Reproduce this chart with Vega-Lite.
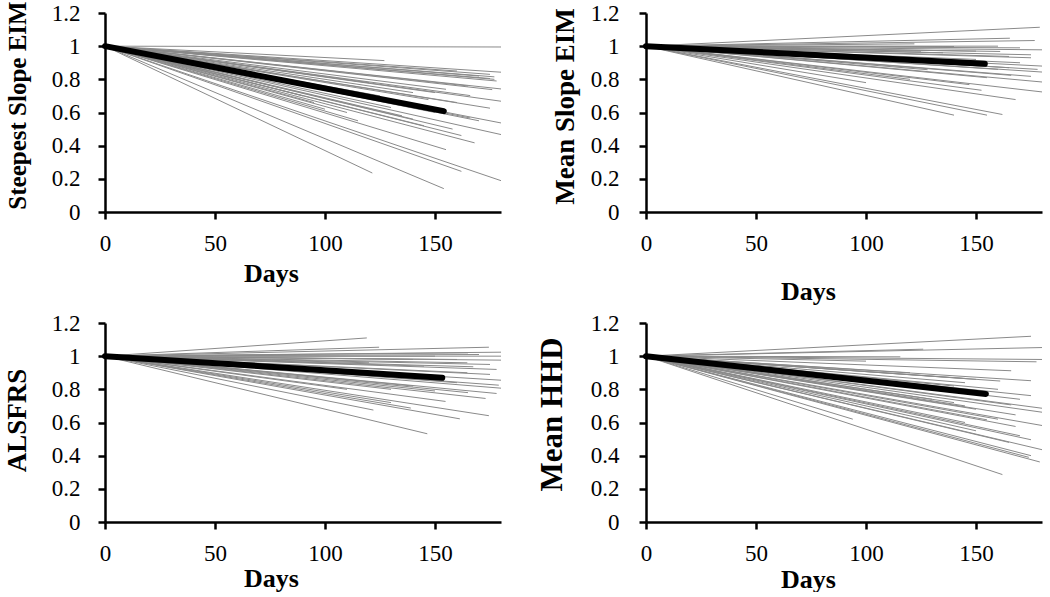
{
  "$schema": "https://vega.github.io/schema/vega-lite/v6.json",
  "autosize": {"type": "pad"},
  "padding": {"left": 2, "top": 0, "right": 0, "bottom": 0},
  "background": "white",
  "data": {"values": [
    {"p":"A","m":false,"x0":0,"y0":1,"x1":180,"y1":0.995},
    {"p":"A","m":false,"x0":0,"y0":1,"x1":127,"y1":0.913},
    {"p":"A","m":false,"x0":0,"y0":1,"x1":180,"y1":0.843},
    {"p":"A","m":false,"x0":0,"y0":1,"x1":177,"y1":0.815},
    {"p":"A","m":false,"x0":0,"y0":1,"x1":177,"y1":0.8},
    {"p":"A","m":false,"x0":0,"y0":1,"x1":175,"y1":0.805},
    {"p":"A","m":false,"x0":0,"y0":1,"x1":180,"y1":0.742},
    {"p":"A","m":false,"x0":0,"y0":1,"x1":176,"y1":0.738},
    {"p":"A","m":false,"x0":0,"y0":1,"x1":166,"y1":0.702},
    {"p":"A","m":false,"x0":0,"y0":1,"x1":180,"y1":0.668},
    {"p":"A","m":false,"x0":0,"y0":1,"x1":175,"y1":0.626},
    {"p":"A","m":false,"x0":0,"y0":1,"x1":147,"y1":0.678},
    {"p":"A","m":false,"x0":0,"y0":1,"x1":166,"y1":0.567},
    {"p":"A","m":false,"x0":0,"y0":1,"x1":180,"y1":0.537},
    {"p":"A","m":false,"x0":0,"y0":1,"x1":180,"y1":0.467},
    {"p":"A","m":false,"x0":0,"y0":1,"x1":162,"y1":0.461},
    {"p":"A","m":false,"x0":0,"y0":1,"x1":168,"y1":0.417},
    {"p":"A","m":false,"x0":0,"y0":1,"x1":155,"y1":0.376},
    {"p":"A","m":false,"x0":0,"y0":1,"x1":162,"y1":0.245},
    {"p":"A","m":false,"x0":0,"y0":1,"x1":180,"y1":0.189},
    {"p":"A","m":false,"x0":0,"y0":1,"x1":121.5,"y1":0.235},
    {"p":"A","m":false,"x0":0,"y0":1,"x1":154,"y1":0.141},
    {"p":"A","m":false,"x0":0,"y0":1,"x1":140,"y1":0.56},
    {"p":"A","m":false,"x0":0,"y0":1,"x1":95,"y1":0.66},
    {"p":"A","m":false,"x0":0,"y0":1,"x1":130,"y1":0.63},
    {"p":"A","m":false,"x0":0,"y0":1,"x1":150,"y1":0.72},
    {"p":"A","m":false,"x0":0,"y0":1,"x1":120,"y1":0.78},
    {"p":"A","m":false,"x0":0,"y0":1,"x1":160,"y1":0.85},
    {"p":"A","m":false,"x0":0,"y0":1,"x1":145,"y1":0.52},
    {"p":"A","m":false,"x0":0,"y0":1,"x1":110,"y1":0.6},
    {"p":"A","m":false,"x0":0,"y0":1,"x1":175,"y1":0.83},
    {"p":"A","m":false,"x0":0,"y0":1,"x1":170,"y1":0.82},
    {"p":"A","m":false,"x0":0,"y0":1,"x1":178,"y1":0.79},
    {"p":"A","m":false,"x0":0,"y0":1,"x1":165,"y1":0.76},
    {"p":"A","m":false,"x0":0,"y0":1,"x1":155,"y1":0.74},
    {"p":"A","m":false,"x0":0,"y0":1,"x1":140,"y1":0.72},
    {"p":"A","m":false,"x0":0,"y0":1,"x1":125,"y1":0.7},
    {"p":"A","m":false,"x0":0,"y0":1,"x1":160,"y1":0.66},
    {"p":"A","m":false,"x0":0,"y0":1,"x1":150,"y1":0.6},
    {"p":"A","m":false,"x0":0,"y0":1,"x1":135,"y1":0.58},
    {"p":"A","m":false,"x0":0,"y0":1,"x1":170,"y1":0.55},
    {"p":"A","m":false,"x0":0,"y0":1,"x1":158,"y1":0.5},
    {"p":"A","m":false,"x0":0,"y0":1,"x1":100,"y1":0.62},
    {"p":"A","m":false,"x0":0,"y0":1,"x1":90,"y1":0.7},
    {"p":"A","m":false,"x0":0,"y0":1,"x1":115,"y1":0.55},
    {"p":"A","m":true,"x0":0,"y0":1,"x1":154,"y1":0.608},

    {"p":"B","m":false,"x0":0,"y0":1,"x1":179,"y1":1.114},
    {"p":"B","m":false,"x0":0,"y0":1,"x1":176.7,"y1":1.034},
    {"p":"B","m":false,"x0":0,"y0":1,"x1":165.4,"y1":1.048},
    {"p":"B","m":false,"x0":0,"y0":1,"x1":180,"y1":0.978},
    {"p":"B","m":false,"x0":0,"y0":1,"x1":175,"y1":0.948},
    {"p":"B","m":false,"x0":0,"y0":1,"x1":161,"y1":0.968},
    {"p":"B","m":false,"x0":0,"y0":1,"x1":165,"y1":0.938},
    {"p":"B","m":false,"x0":0,"y0":1,"x1":122,"y1":1.014},
    {"p":"B","m":false,"x0":0,"y0":1,"x1":140,"y1":0.998},
    {"p":"B","m":false,"x0":0,"y0":1,"x1":180,"y1":0.88},
    {"p":"B","m":false,"x0":0,"y0":1,"x1":180,"y1":0.844},
    {"p":"B","m":false,"x0":0,"y0":1,"x1":166,"y1":0.824},
    {"p":"B","m":false,"x0":0,"y0":1,"x1":175,"y1":0.818},
    {"p":"B","m":false,"x0":0,"y0":1,"x1":180,"y1":0.784},
    {"p":"B","m":false,"x0":0,"y0":1,"x1":147,"y1":0.768},
    {"p":"B","m":false,"x0":0,"y0":1,"x1":180,"y1":0.724},
    {"p":"B","m":false,"x0":0,"y0":1,"x1":152.5,"y1":0.734},
    {"p":"B","m":false,"x0":0,"y0":1,"x1":168,"y1":0.678},
    {"p":"B","m":false,"x0":0,"y0":1,"x1":162,"y1":0.588},
    {"p":"B","m":false,"x0":0,"y0":1,"x1":155,"y1":0.584},
    {"p":"B","m":false,"x0":0,"y0":1,"x1":140,"y1":0.584},
    {"p":"B","m":false,"x0":0,"y0":1,"x1":128,"y1":0.858},
    {"p":"B","m":false,"x0":0,"y0":1,"x1":170,"y1":0.9},
    {"p":"B","m":false,"x0":0,"y0":1,"x1":150,"y1":0.92},
    {"p":"B","m":false,"x0":0,"y0":1,"x1":160,"y1":0.86},
    {"p":"B","m":false,"x0":0,"y0":1,"x1":135,"y1":0.96},
    {"p":"B","m":false,"x0":0,"y0":1,"x1":160,"y1":1.0},
    {"p":"B","m":false,"x0":0,"y0":1,"x1":170,"y1":0.99},
    {"p":"B","m":false,"x0":0,"y0":1,"x1":150,"y1":0.97},
    {"p":"B","m":false,"x0":0,"y0":1,"x1":125,"y1":0.97},
    {"p":"B","m":false,"x0":0,"y0":1,"x1":175,"y1":0.93},
    {"p":"B","m":false,"x0":0,"y0":1,"x1":145,"y1":0.91},
    {"p":"B","m":false,"x0":0,"y0":1,"x1":165,"y1":0.87},
    {"p":"B","m":false,"x0":0,"y0":1,"x1":178,"y1":0.86},
    {"p":"B","m":false,"x0":0,"y0":1,"x1":130,"y1":0.9},
    {"p":"B","m":false,"x0":0,"y0":1,"x1":155,"y1":0.81},
    {"p":"B","m":false,"x0":0,"y0":1,"x1":120,"y1":0.8},
    {"p":"B","m":false,"x0":0,"y0":1,"x1":100,"y1":0.78},
    {"p":"B","m":true,"x0":0,"y0":1,"x1":154,"y1":0.894},

    {"p":"C","m":false,"x0":0,"y0":1,"x1":119,"y1":1.11},
    {"p":"C","m":false,"x0":0,"y0":1,"x1":174.5,"y1":1.054},
    {"p":"C","m":false,"x0":0,"y0":1,"x1":124.6,"y1":1.054},
    {"p":"C","m":false,"x0":0,"y0":1,"x1":180,"y1":1.024},
    {"p":"C","m":false,"x0":0,"y0":1,"x1":180,"y1":1.0},
    {"p":"C","m":false,"x0":0,"y0":1,"x1":180,"y1":0.976},
    {"p":"C","m":false,"x0":0,"y0":1,"x1":164.7,"y1":0.96},
    {"p":"C","m":false,"x0":0,"y0":1,"x1":167.4,"y1":0.936},
    {"p":"C","m":false,"x0":0,"y0":1,"x1":164.7,"y1":0.9},
    {"p":"C","m":false,"x0":0,"y0":1,"x1":180,"y1":0.855},
    {"p":"C","m":false,"x0":0,"y0":1,"x1":179,"y1":0.825},
    {"p":"C","m":false,"x0":0,"y0":1,"x1":180,"y1":0.807},
    {"p":"C","m":false,"x0":0,"y0":1,"x1":178,"y1":0.775},
    {"p":"C","m":false,"x0":0,"y0":1,"x1":173,"y1":0.745},
    {"p":"C","m":false,"x0":0,"y0":1,"x1":154.8,"y1":0.727},
    {"p":"C","m":false,"x0":0,"y0":1,"x1":139,"y1":0.687},
    {"p":"C","m":false,"x0":0,"y0":1,"x1":122,"y1":0.675},
    {"p":"C","m":false,"x0":0,"y0":1,"x1":174.5,"y1":0.641},
    {"p":"C","m":false,"x0":0,"y0":1,"x1":161.3,"y1":0.622},
    {"p":"C","m":false,"x0":0,"y0":1,"x1":146.5,"y1":0.532},
    {"p":"C","m":false,"x0":0,"y0":1,"x1":140,"y1":0.98},
    {"p":"C","m":false,"x0":0,"y0":1,"x1":170,"y1":1.01},
    {"p":"C","m":false,"x0":0,"y0":1,"x1":150,"y1":0.79},
    {"p":"C","m":false,"x0":0,"y0":1,"x1":130,"y1":0.8},
    {"p":"C","m":false,"x0":0,"y0":1,"x1":175,"y1":0.89},
    {"p":"C","m":false,"x0":0,"y0":1,"x1":165,"y1":1.02},
    {"p":"C","m":false,"x0":0,"y0":1,"x1":150,"y1":1.0},
    {"p":"C","m":false,"x0":0,"y0":1,"x1":160,"y1":0.98},
    {"p":"C","m":false,"x0":0,"y0":1,"x1":175,"y1":0.95},
    {"p":"C","m":false,"x0":0,"y0":1,"x1":145,"y1":0.94},
    {"p":"C","m":false,"x0":0,"y0":1,"x1":120,"y1":0.96},
    {"p":"C","m":false,"x0":0,"y0":1,"x1":178,"y1":0.92},
    {"p":"C","m":false,"x0":0,"y0":1,"x1":160,"y1":0.84},
    {"p":"C","m":false,"x0":0,"y0":1,"x1":140,"y1":0.82},
    {"p":"C","m":false,"x0":0,"y0":1,"x1":110,"y1":0.8},
    {"p":"C","m":false,"x0":0,"y0":1,"x1":165,"y1":0.78},
    {"p":"C","m":false,"x0":0,"y0":1,"x1":130,"y1":0.72},
    {"p":"C","m":true,"x0":0,"y0":1,"x1":153.3,"y1":0.87},

    {"p":"D","m":false,"x0":0,"y0":1,"x1":175,"y1":1.12},
    {"p":"D","m":false,"x0":0,"y0":1,"x1":180,"y1":1.052},
    {"p":"D","m":false,"x0":0,"y0":1,"x1":126,"y1":1.042},
    {"p":"D","m":false,"x0":0,"y0":1,"x1":115.6,"y1":0.996},
    {"p":"D","m":false,"x0":0,"y0":1,"x1":177.5,"y1":0.966},
    {"p":"D","m":false,"x0":0,"y0":1,"x1":166,"y1":0.912},
    {"p":"D","m":false,"x0":0,"y0":1,"x1":175,"y1":0.852},
    {"p":"D","m":false,"x0":0,"y0":1,"x1":145,"y1":0.866},
    {"p":"D","m":false,"x0":0,"y0":1,"x1":161,"y1":0.85},
    {"p":"D","m":false,"x0":0,"y0":1,"x1":175,"y1":0.762},
    {"p":"D","m":false,"x0":0,"y0":1,"x1":166,"y1":0.706},
    {"p":"D","m":false,"x0":0,"y0":1,"x1":180,"y1":0.686},
    {"p":"D","m":false,"x0":0,"y0":1,"x1":180,"y1":0.662},
    {"p":"D","m":false,"x0":0,"y0":1,"x1":168,"y1":0.646},
    {"p":"D","m":false,"x0":0,"y0":1,"x1":180,"y1":0.582},
    {"p":"D","m":false,"x0":0,"y0":1,"x1":168,"y1":0.576},
    {"p":"D","m":false,"x0":0,"y0":1,"x1":155,"y1":0.616},
    {"p":"D","m":false,"x0":0,"y0":1,"x1":175,"y1":0.496},
    {"p":"D","m":false,"x0":0,"y0":1,"x1":94,"y1":0.62},
    {"p":"D","m":false,"x0":0,"y0":1,"x1":180,"y1":0.436},
    {"p":"D","m":false,"x0":0,"y0":1,"x1":174,"y1":0.39},
    {"p":"D","m":false,"x0":0,"y0":1,"x1":179,"y1":0.362},
    {"p":"D","m":false,"x0":0,"y0":1,"x1":162,"y1":0.286},
    {"p":"D","m":false,"x0":0,"y0":1,"x1":145,"y1":0.7},
    {"p":"D","m":false,"x0":0,"y0":1,"x1":130,"y1":0.74},
    {"p":"D","m":false,"x0":0,"y0":1,"x1":150,"y1":0.55},
    {"p":"D","m":false,"x0":0,"y0":1,"x1":140,"y1":0.82},
    {"p":"D","m":false,"x0":0,"y0":1,"x1":180,"y1":0.98},
    {"p":"D","m":false,"x0":0,"y0":1,"x1":150,"y1":0.86},
    {"p":"D","m":false,"x0":0,"y0":1,"x1":145,"y1":0.84},
    {"p":"D","m":false,"x0":0,"y0":1,"x1":160,"y1":0.8},
    {"p":"D","m":false,"x0":0,"y0":1,"x1":170,"y1":0.74},
    {"p":"D","m":false,"x0":0,"y0":1,"x1":140,"y1":0.72},
    {"p":"D","m":false,"x0":0,"y0":1,"x1":150,"y1":0.68},
    {"p":"D","m":false,"x0":0,"y0":1,"x1":160,"y1":0.62},
    {"p":"D","m":false,"x0":0,"y0":1,"x1":145,"y1":0.6},
    {"p":"D","m":false,"x0":0,"y0":1,"x1":170,"y1":0.52},
    {"p":"D","m":false,"x0":0,"y0":1,"x1":165,"y1":0.48},
    {"p":"D","m":false,"x0":0,"y0":1,"x1":175,"y1":0.4},
    {"p":"D","m":false,"x0":0,"y0":1,"x1":120,"y1":0.9},
    {"p":"D","m":false,"x0":0,"y0":1,"x1":100,"y1":0.97},
    {"p":"D","m":true,"x0":0,"y0":1,"x1":154.5,"y1":0.772}
  ]},
  "columns": 2,
  "bounds": "flush",
  "spacing": {"row": 111, "column": 145},
  "concat": [
    {
      "width": 396, "height": 199,
      "transform": [{"filter": "datum.p === 'A'"}],
      "encoding": {
        "x": {"field": "x0", "type": "quantitative", "scale": {"domain": [0, 180], "nice": false},
              "axis": {"values": [0, 50, 100, 150], "title": "Days", "titleX": 166, "titleY": 69, "titleBaseline": "alphabetic", "titleAlign": "center"}},
        "y": {"field": "y0", "type": "quantitative", "scale": {"domain": [0, 1.2], "nice": false},
              "axis": {"values": [0, 0.2, 0.4, 0.6, 0.8, 1, 1.2], "format": "~g", "title": "Steepest Slope EIM", "titleFontSize": 25, "titleX": -88, "titleY": 92, "titleBaseline": "middle", "titleAlign": "center", "titleAngle": -90}},
        "x2": {"field": "x1"},
        "y2": {"field": "y1"}
      },
      "layer": [
        {"transform": [{"filter": "!datum.m"}], "mark": {"type": "rule", "stroke": "#8a8a8a", "strokeWidth": 1}},
        {"transform": [{"filter": "datum.m"}], "mark": {"type": "rule", "stroke": "black", "strokeWidth": 6, "strokeCap": "round"}}
      ]
    },
    {
      "width": 396, "height": 199,
      "transform": [{"filter": "datum.p === 'B'"}],
      "encoding": {
        "x": {"field": "x0", "type": "quantitative", "scale": {"domain": [0, 180], "nice": false},
              "axis": {"values": [0, 50, 100, 150], "title": "Days", "titleX": 162, "titleY": 87, "titleBaseline": "alphabetic", "titleAlign": "center"}},
        "y": {"field": "y0", "type": "quantitative", "scale": {"domain": [0, 1.2], "nice": false},
              "axis": {"values": [0, 0.2, 0.4, 0.6, 0.8, 1, 1.2], "format": "~g", "title": "Mean Slope EIM", "titleFontSize": 27, "titleX": -81, "titleY": 93, "titleBaseline": "middle", "titleAlign": "center", "titleAngle": -90, "labelPadding": 20}},
        "x2": {"field": "x1"},
        "y2": {"field": "y1"}
      },
      "layer": [
        {"transform": [{"filter": "!datum.m"}], "mark": {"type": "rule", "stroke": "#8a8a8a", "strokeWidth": 1}},
        {"transform": [{"filter": "datum.m"}], "mark": {"type": "rule", "stroke": "black", "strokeWidth": 6, "strokeCap": "round"}}
      ]
    },
    {
      "width": 396, "height": 199,
      "transform": [{"filter": "datum.p === 'C'"}],
      "encoding": {
        "x": {"field": "x0", "type": "quantitative", "scale": {"domain": [0, 180], "nice": false},
              "axis": {"values": [0, 50, 100, 150], "title": "Days", "titleX": 166, "titleY": 64, "titleBaseline": "alphabetic", "titleAlign": "center"}},
        "y": {"field": "y0", "type": "quantitative", "scale": {"domain": [0, 1.2], "nice": false},
              "axis": {"values": [0, 0.2, 0.4, 0.6, 0.8, 1, 1.2], "format": "~g", "title": "ALSFRS", "titleFontSize": 27, "titleX": -88, "titleY": 97, "titleBaseline": "middle", "titleAlign": "center", "titleAngle": -90}},
        "x2": {"field": "x1"},
        "y2": {"field": "y1"}
      },
      "layer": [
        {"transform": [{"filter": "!datum.m"}], "mark": {"type": "rule", "stroke": "#8a8a8a", "strokeWidth": 1}},
        {"transform": [{"filter": "datum.m"}], "mark": {"type": "rule", "stroke": "black", "strokeWidth": 6, "strokeCap": "round"}}
      ]
    },
    {
      "width": 396, "height": 199,
      "transform": [{"filter": "datum.p === 'D'"}],
      "encoding": {
        "x": {"field": "x0", "type": "quantitative", "scale": {"domain": [0, 180], "nice": false},
              "axis": {"values": [0, 50, 100, 150], "title": "Days", "titleX": 162, "titleY": 65, "titleBaseline": "alphabetic", "titleAlign": "center"}},
        "y": {"field": "y0", "type": "quantitative", "scale": {"domain": [0, 1.2], "nice": false},
              "axis": {"values": [0, 0.2, 0.4, 0.6, 0.8, 1, 1.2], "format": "~g", "title": "Mean HHD", "titleFontSize": 31, "titleX": -94, "titleY": 91, "titleBaseline": "middle", "titleAlign": "center", "titleAngle": -90, "labelPadding": 20}},
        "x2": {"field": "x1"},
        "y2": {"field": "y1"}
      },
      "layer": [
        {"transform": [{"filter": "!datum.m"}], "mark": {"type": "rule", "stroke": "#8a8a8a", "strokeWidth": 1}},
        {"transform": [{"filter": "datum.m"}], "mark": {"type": "rule", "stroke": "black", "strokeWidth": 6, "strokeCap": "round"}}
      ]
    }
  ],
  "config": {
    "view": {"stroke": null},
    "axis": {
      "grid": false,
      "domainColor": "black", "domainWidth": 2.5,
      "tickColor": "black", "tickWidth": 2.5, "tickSize": 7,
      "labelFont": "Liberation Serif", "labelFontSize": 23, "labelColor": "black", "labelPadding": 18,
      "titleFont": "Liberation Serif", "titleFontWeight": "bold", "titleFontSize": 26, "titleColor": "black"
    },
    "axisX": {"labelPadding": 13, "labelFlush": false, "labelOverlap": false},
    "axisY": {"labelOverlap": false}
  }
}
